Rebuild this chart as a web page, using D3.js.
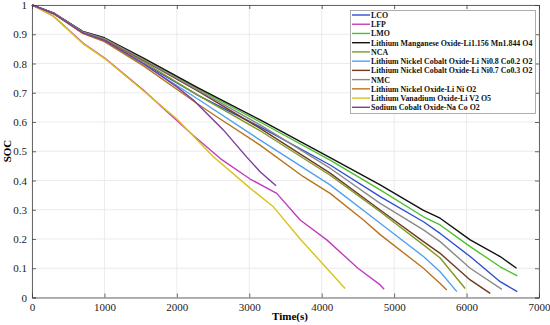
<!DOCTYPE html>
<html><head><meta charset="utf-8">
<script src="https://cdn.jsdelivr.net/npm/d3@7"></script>
<style>body{margin:0;background:#fff;} svg{display:block;}</style>
</head><body>
<svg id="c" width="550" height="325"></svg>
<script>
const names = ["LCO","LFP","LMO","Lithium Manganese Oxide-Li1.156 Mn1.844 O4","NCA",
 "Lithium Nickel Cobalt Oxide-Li Ni0.8 Co0.2 O2","Lithium Nickel Cobalt Oxide-Li Ni0.7 Co0.3 O2",
 "NMC","Lithium Nickel Oxide-Li Ni O2","Lithium Vanadium Oxide-Li V2 O5","Sodium Cobalt Oxide-Na Co O2"];
const colors = ["#2f4fd0","#c23cc0","#4cc02a","#111111","#7f9a22","#4fa2ee","#6e3a22","#8a8a8a","#b8741c","#d8c418","#7a3c9c"];

const tLCO = [0,300,700,1000,1540,2300,3150,4116,4807,5405,5635,6050,6464,6700];
const sLCO = [1,0.970,0.905,0.878,0.800,0.690,0.583,0.453,0.345,0.259,0.219,0.140,0.054,0.020];
const tLFP = [0,295,709,1008,1538,2224,2600,3011,3379,3702,4070,4500,4807,4862];
const sLFP = [1,0.962,0.869,0.818,0.709,0.555,0.475,0.405,0.356,0.265,0.197,0.100,0.043,0.028];
const tLMO = [0,300,700,1000,1540,2300,3150,4116,4807,5405,5635,6050,6464,6700];
const sLMO = [1,0.972,0.909,0.886,0.815,0.712,0.600,0.470,0.368,0.276,0.248,0.174,0.105,0.074];
const tLMnO = [0,300,700,1000,1540,2300,3150,4116,4807,5405,5635,6050,6464,6690];
const sLMnO = [1,0.972,0.910,0.888,0.818,0.716,0.607,0.478,0.385,0.298,0.271,0.197,0.140,0.100];
const tNCA = [0,300,700,1000,1540,2300,3150,4116,4807,5405,5635,5981];
const sNCA = [1,0.971,0.906,0.882,0.806,0.690,0.570,0.418,0.293,0.180,0.135,0.031];
const tNC82 = [0,300,700,1000,1540,2300,3150,4116,4807,5405,5635,5866];
const sNC82 = [1,0.970,0.904,0.877,0.797,0.677,0.538,0.385,0.254,0.140,0.088,0.020];
const tNC73 = [0,300,700,1000,1540,2300,3150,4116,4807,5405,5635,6050,6326];
const sNC73 = [1,0.972,0.908,0.884,0.811,0.705,0.578,0.425,0.299,0.191,0.151,0.060,0.014];
const tNMC = [0,300,700,1000,1540,2300,3150,4116,4807,5405,5635,6050,6488];
const sNMC = [1,0.972,0.908,0.885,0.813,0.708,0.590,0.442,0.322,0.231,0.191,0.100,0.028];
const tLNO = [0,300,700,1000,1540,2274,2551,3149,3747,4116,4577,4807,5405,5635,5727];
const sLNO = [1,0.970,0.903,0.875,0.792,0.664,0.618,0.521,0.413,0.356,0.265,0.215,0.100,0.048,0.026];
const tLVO = [0,295,709,1008,1538,2000,2504,3011,3333,3702,4323];
const sLVO = [1,0.962,0.867,0.816,0.707,0.610,0.481,0.374,0.310,0.200,0.031];
const tNaCo = [0,300,700,1000,1540,2000,2228,2642,2965,3149,3370];
const sNaCo = [1,0.971,0.905,0.879,0.800,0.720,0.675,0.573,0.480,0.430,0.382];

const xTicks = [0,1000,2000,3000,4000,5000,6000,7000];
const yTicks = [0,0.1,0.2,0.3,0.4,0.5,0.6,0.7,0.8,0.9,1];

const series = [[tLCO,sLCO],[tLFP,sLFP],[tLMO,sLMO],[tLMnO,sLMnO],[tNCA,sNCA],[tNC82,sNC82],
 [tNC73,sNC73],[tNMC,sNMC],[tLNO,sLNO],[tLVO,sLVO],[tNaCo,sNaCo]];

const svg = d3.select("#c");
const L = 32, R = 539, T = 5, B = 297.5;
const x = d3.scaleLinear().domain([0,7000]).range([L,R]);
const y = d3.scaleLinear().domain([0,1]).range([B,T]);
const font = "'Liberation Serif','Times New Roman',serif";

// grid
svg.append("g").selectAll("line").data(xTicks).join("line")
  .attr("x1",d=>x(d)).attr("x2",d=>x(d)).attr("y1",T).attr("y2",B)
  .attr("stroke","#e6e6e6").attr("stroke-width",0.8);
svg.append("g").selectAll("line").data(yTicks).join("line")
  .attr("y1",d=>y(d)).attr("y2",d=>y(d)).attr("x1",L).attr("x2",R)
  .attr("stroke","#e6e6e6").attr("stroke-width",0.8);

// lines
const line = d3.line().x(d=>x(d[0])).y(d=>y(d[1]));
series.forEach((s,i)=>{
  const pts = s[0].map((t,j)=>[t,s[1][j]]);
  svg.append("path").datum(pts).attr("d",line).attr("fill","none")
    .attr("stroke",colors[i]).attr("stroke-width",1.4).attr("stroke-linejoin","round");
});

// axes
svg.append("g").attr("transform",`translate(0,${B})`)
  .call(d3.axisBottom(x).tickValues(xTicks).tickSize(-4).tickPadding(6).tickFormat(d3.format("d")));
svg.append("g").attr("transform",`translate(${L},0)`)
  .call(d3.axisLeft(y).tickValues(yTicks).tickSize(-4).tickPadding(5).tickFormat(d=>d===0||d===1?String(d):d3.format(".1f")(d)));
svg.append("g").attr("transform",`translate(0,${T})`)
  .call(d3.axisTop(x).tickValues(xTicks).tickSize(-4).tickFormat(""));
svg.append("g").attr("transform",`translate(${R},0)`)
  .call(d3.axisRight(y).tickValues(yTicks).tickSize(-4).tickFormat(""));
svg.selectAll(".domain").attr("stroke","#444").attr("stroke-width",0.8);
svg.selectAll(".tick line").attr("stroke","#444").attr("stroke-width",0.8);
svg.selectAll(".tick text").attr("font-family",font).attr("font-size",11).attr("fill","#222");

// axis labels
svg.append("text").attr("x",290).attr("y",320).attr("text-anchor","middle")
  .attr("font-family",font).attr("font-weight","bold").attr("font-size",11).text("Time(s)");
svg.append("text").attr("transform","translate(11,151) rotate(-90)").attr("text-anchor","middle")
  .attr("font-family",font).attr("font-weight","bold").attr("font-size",11).text("SOC");

// legend
const lg = svg.append("g");
lg.append("rect").attr("x",350.5).attr("y",10.5).attr("width",185).attr("height",103)
  .attr("fill","#fff").attr("stroke","#999").attr("stroke-width",0.8);
names.forEach((n,i)=>{
  const yy = 15 + i*9.23;
  lg.append("line").attr("x1",352).attr("x2",370).attr("y1",yy).attr("y2",yy)
    .attr("stroke",colors[i]).attr("stroke-width",1.4);
  lg.append("text").attr("x",371).attr("y",yy+3).attr("font-family",font)
    .attr("font-weight","bold").attr("font-size",7.9).attr("fill","#111").text(n);
});
</script>
</body></html>
